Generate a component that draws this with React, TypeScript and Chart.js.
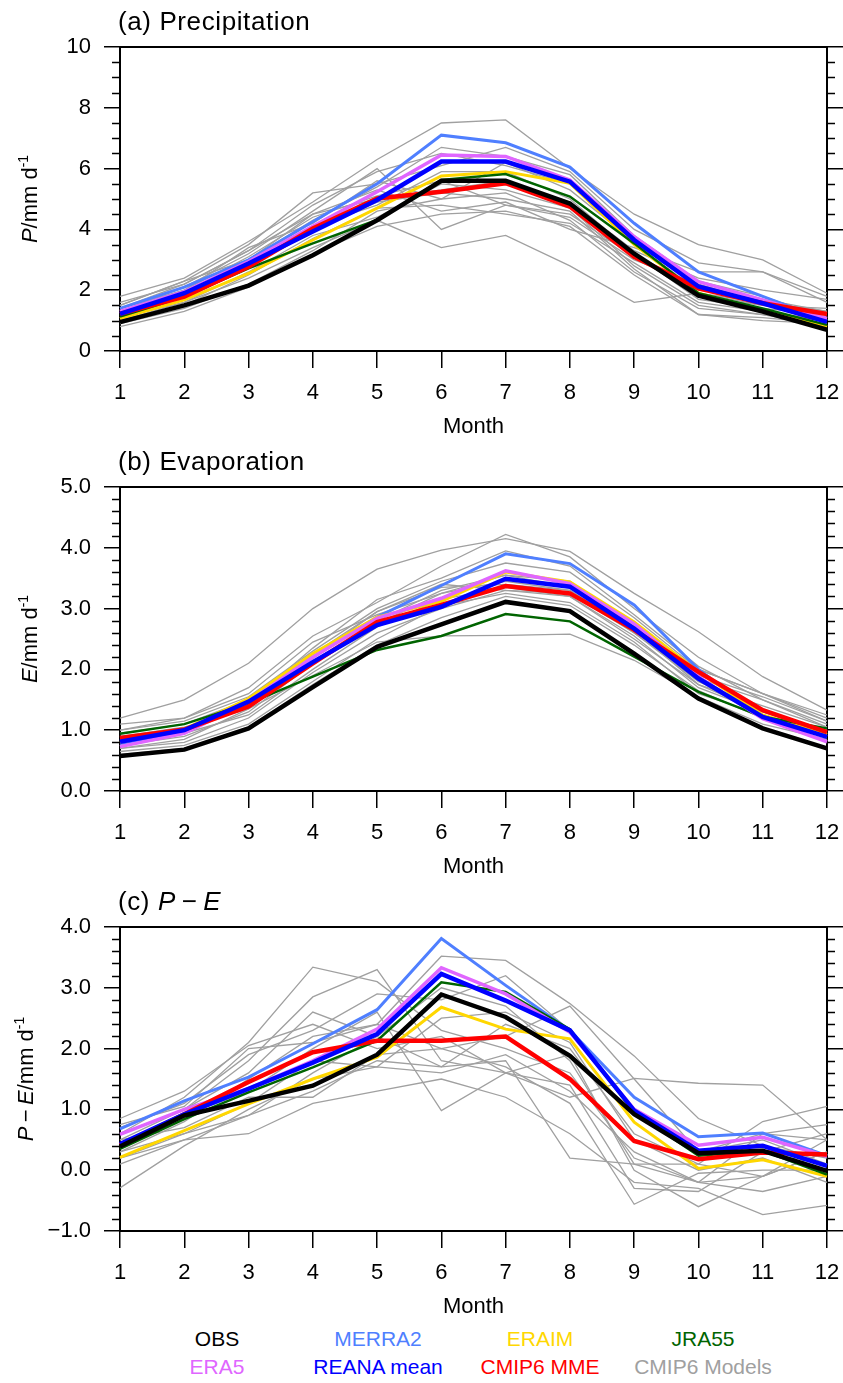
import React, { useEffect, useRef } from "react";
import { Chart, registerables } from "chart.js";

Chart.register(...registerables);

const FONT = "'Liberation Sans', Arial, Helvetica, sans-serif";

// ---------- categories ----------
const months = ["1", "2", "3", "4", "5", "6", "7", "8", "9", "10", "11", "12"];

// ---------- tick labels ----------
const precipTicks = ["0", "2", "4", "6", "8", "10"];
const evapTicks = ["0.0", "1.0", "2.0", "3.0", "4.0", "5.0"];
const pmeTicks = ["\u22121.0", "0.0", "1.0", "2.0", "3.0", "4.0"];

// ---------- series names / colours ----------
const seriesNames = ["OBS", "REANA mean", "CMIP6 MME", "ERA5", "JRA55", "ERAIM", "MERRA2"];
const seriesColors = ["#000000", "#0000ff", "#ff0000", "#e066ff", "#006400", "#ffd700", "#4f7fff"];
const seriesWidths = [4.5, 4.5, 4.5, 3.5, 2.5, 3, 3];
const modelColor = "#a0a0a0";

// ---------- (a) Precipitation ----------
const pOBS = [0.95, 1.5, 2.15, 3.15, 4.3, 5.6, 5.6, 4.85, 3.2, 1.82, 1.3, 0.7];
const pREANA = [1.22, 1.9, 2.88, 3.93, 4.97, 6.23, 6.23, 5.57, 3.65, 2.12, 1.57, 0.96];
const pMME = [1.22, 1.79, 2.77, 4.03, 5.02, 5.24, 5.52, 4.75, 3.1, 2.06, 1.57, 1.22];
const pERA5 = [1.3, 1.95, 2.94, 4.1, 5.24, 6.45, 6.4, 5.62, 3.76, 2.28, 1.68, 1.07];
const pJRA55 = [1.13, 1.79, 2.72, 3.54, 4.31, 5.63, 5.82, 5.08, 3.54, 1.9, 1.4, 0.86];
const pERAIM = [1.07, 1.68, 2.55, 3.65, 4.7, 5.76, 5.9, 5.52, 3.5, 1.9, 1.35, 0.8];
const pMERRA2 = [1.4, 2.1, 3.0, 4.25, 5.5, 7.1, 6.85, 6.05, 4.2, 2.6, 1.8, 1.0];
const pModels = [
  [1.8, 2.4, 3.6, 4.9, 6.3, 7.5, 7.6, 6.0, 4.5, 3.5, 3.0, 1.9],
  [1.5, 2.3, 3.5, 5.2, 5.5, 6.1, 6.7, 5.9, 4.0, 2.9, 2.6, 1.8],
  [1.3, 2.1, 3.2, 4.6, 6.0, 4.0, 4.8, 4.4, 3.0, 2.2, 1.6, 1.2],
  [1.0, 1.6, 2.4, 3.4, 4.3, 3.4, 3.8, 2.8, 1.6, 1.9, 1.6, 1.3],
  [1.2, 1.9, 3.0, 4.3, 5.4, 6.7, 6.4, 5.8, 3.8, 2.3, 1.8, 1.1],
  [1.4, 2.2, 3.3, 4.8, 5.9, 6.5, 6.1, 5.5, 3.5, 2.0, 1.7, 1.3],
  [1.1, 1.7, 2.8, 4.0, 4.9, 5.2, 5.0, 4.6, 2.7, 1.2, 1.1, 0.9],
  [0.9, 1.4, 2.2, 3.3, 4.6, 5.0, 5.2, 4.3, 2.6, 1.4, 1.2, 0.8],
  [1.3, 2.0, 3.1, 4.4, 5.1, 5.6, 4.8, 4.5, 3.1, 1.9, 1.5, 1.1],
  [1.0, 1.5, 2.5, 3.7, 4.7, 4.8, 4.5, 4.2, 2.9, 1.6, 1.3, 1.0],
  [1.6, 2.2, 3.3, 4.5, 5.0, 5.3, 5.6, 4.9, 3.3, 2.4, 2.0, 1.7],
  [1.2, 1.8, 2.9, 4.1, 4.8, 5.9, 5.9, 5.0, 3.2, 1.7, 1.4, 1.2],
  [0.8, 1.3, 2.1, 3.2, 4.1, 4.5, 4.6, 4.1, 2.5, 1.2, 1.0, 0.9],
  [1.4, 2.0, 3.4, 4.2, 5.6, 5.0, 6.2, 5.3, 3.6, 1.8, 1.5, 1.4],
  [1.1, 1.6, 2.6, 3.8, 4.4, 5.5, 5.3, 4.7, 2.8, 1.5, 1.2, 1.0],
  [1.5, 2.3, 3.0, 4.5, 5.3, 4.6, 4.9, 4.0, 3.4, 2.6, 2.6, 1.6],
];

// ---------- (b) Evaporation ----------
const eOBS = [0.575, 0.68, 1.03, 1.71, 2.37, 2.74, 3.11, 2.96, 2.26, 1.52, 1.03, 0.7];
const eREANA = [0.81, 1.0, 1.47, 2.12, 2.73, 3.03, 3.49, 3.36, 2.67, 1.85, 1.22, 0.89];
const eMME = [0.87, 1.01, 1.39, 2.1, 2.78, 3.06, 3.37, 3.25, 2.65, 1.96, 1.33, 0.97];
const eERA5 = [0.73, 0.95, 1.47, 2.2, 2.84, 3.17, 3.62, 3.41, 2.75, 1.88, 1.19, 0.81];
const eJRA55 = [0.94, 1.1, 1.44, 1.88, 2.32, 2.55, 2.91, 2.79, 2.21, 1.63, 1.22, 1.03];
const eERAIM = [0.8, 1.02, 1.52, 2.26, 2.86, 3.12, 3.6, 3.44, 2.78, 1.96, 1.25, 0.93];
const eMERRA2 = [0.78, 0.97, 1.5, 2.2, 2.86, 3.38, 3.9, 3.74, 3.06, 2.0, 1.22, 0.89];
const eModels = [
  [1.2, 1.5, 2.1, 3.0, 3.65, 3.96, 4.15, 3.94, 3.25, 2.62, 1.88, 1.33],
  [1.1, 1.2, 1.7, 2.55, 3.1, 3.7, 4.22, 3.85, 3.0, 2.2, 1.6, 1.15],
  [1.0, 1.15, 1.55, 2.3, 3.0, 3.45, 3.75, 3.6, 2.85, 2.0, 1.6, 1.2],
  [0.85, 1.0, 1.4, 2.1, 2.75, 3.25, 3.45, 3.3, 2.6, 1.85, 1.5, 1.05],
  [0.9, 1.05, 1.35, 1.9, 2.45, 2.55, 2.56, 2.58, 2.15, 1.55, 1.1, 0.85],
  [0.7, 0.8, 1.2, 1.95, 2.6, 3.0, 3.3, 3.2, 2.5, 1.75, 1.3, 1.0],
  [0.75, 0.9, 1.3, 2.1, 2.8, 3.3, 3.55, 3.45, 2.7, 1.9, 1.55, 1.15],
  [0.65, 0.75, 1.1, 1.8, 2.5, 3.05, 3.25, 3.1, 2.45, 1.6, 1.25, 0.95],
  [0.8, 0.95, 1.45, 2.35, 3.15, 3.5, 3.95, 3.7, 2.9, 2.05, 1.5, 1.1],
  [0.95, 1.1, 1.5, 2.2, 2.95, 3.4, 3.3, 3.25, 2.6, 1.8, 1.35, 0.95],
  [0.6, 0.7, 1.05, 1.75, 2.4, 2.85, 3.2, 3.05, 2.4, 1.65, 1.2, 0.9],
  [1.0, 1.2, 1.6, 2.45, 2.9, 3.25, 3.55, 3.35, 2.7, 2.0, 1.6, 1.25],
  [0.85, 0.95, 1.25, 2.0, 2.7, 3.15, 3.35, 3.2, 2.55, 1.7, 1.3, 0.95],
  [0.7, 0.85, 1.35, 2.25, 2.95, 3.35, 3.4, 3.3, 2.65, 1.75, 1.4, 1.05],
];

// ---------- (c) P - E ----------
const dOBS = [0.39, 0.9, 1.14, 1.39, 1.9, 2.89, 2.52, 1.88, 0.92, 0.28, 0.32, -0.01];
const dREANA = [0.43, 0.92, 1.34, 1.77, 2.24, 3.23, 2.79, 2.3, 0.98, 0.32, 0.4, 0.07];
const dMME = [0.41, 0.92, 1.45, 1.94, 2.13, 2.13, 2.2, 1.5, 0.48, 0.18, 0.29, 0.26];
const dERA5 = [0.59, 1.0, 1.34, 1.8, 2.32, 3.33, 2.9, 2.27, 1.0, 0.41, 0.54, 0.23];
const dJRA55 = [0.35, 0.84, 1.28, 1.69, 2.13, 3.09, 2.93, 2.32, 0.95, 0.24, 0.32, -0.07];
const dERAIM = [0.21, 0.65, 1.09, 1.5, 1.86, 2.68, 2.32, 2.16, 0.79, 0.03, 0.17, -0.1];
const dMERRA2 = [0.68, 1.14, 1.53, 2.08, 2.64, 3.81, 3.04, 2.3, 1.2, 0.55, 0.61, 0.24];
const dModels = [
  [0.6, 1.2, 2.1, 3.34, 3.1, 2.3, 2.0, 1.6, 0.2, -0.2, -0.1, 0.5],
  [0.5, 1.0, 1.8, 2.85, 3.3, 1.8, 1.6, 1.9, 0.0, -0.6, -0.1, 0.3],
  [0.3, 0.8, 1.5, 2.2, 2.4, 3.52, 3.45, 2.74, 1.88, 0.85, 0.4, 0.2],
  [-0.29, 0.4, 1.0, 1.5, 1.7, 1.6, 1.9, 1.3, 0.3, -0.2, -0.35, -0.1],
  [0.85, 1.3, 2.05, 2.4, 2.0, 2.2, 1.6, 1.2, 1.51, 1.43, 1.4, 0.5],
  [0.2, 0.5, 0.6, 1.1, 1.3, 1.5, 1.2, 0.6, -0.2, -0.3, -0.73, -0.58],
  [0.4, 0.9, 1.3, 2.0, 2.6, 0.98, 1.6, 1.4, -0.3, -0.35, 0.3, 0.6],
  [0.7, 1.1, 1.9, 2.3, 2.9, 2.8, 3.2, 2.3, 1.0, 0.3, 0.5, 0.1],
  [0.1, 0.5, 0.9, 1.6, 2.2, 1.7, 2.4, 2.0, 0.6, 0.1, 0.8, 1.05],
  [0.3, 0.6, 1.1, 1.8, 1.7, 2.5, 2.6, 2.1, 0.5, 0.0, 0.2, -0.2],
  [0.6, 1.0, 1.6, 2.6, 2.2, 3.0, 2.7, 1.8, 0.1, -0.2, 0.6, 0.75],
  [0.5, 0.7, 1.2, 1.2, 1.9, 2.0, 1.7, 1.1, -0.56, -0.05, 0.0, 0.0],
  [0.2, 0.6, 0.9, 1.3, 1.8, 1.7, 1.8, 0.2, 0.1, 0.1, -0.1, 0.3],
  [0.75, 1.05, 2.0, 2.1, 2.4, 2.0, 2.2, 2.7, 1.5, 0.3, 0.6, 0.5],
];

// ---------- legend ----------
const legendItems = [
  { name: "OBS", color: "#000000" },
  { name: "MERRA2", color: "#4f7fff" },
  { name: "ERAIM", color: "#ffd700" },
  { name: "JRA55", color: "#006400" },
  { name: "ERA5", color: "#e066ff" },
  { name: "REANA mean", color: "#0000ff" },
  { name: "CMIP6 MME", color: "#ff0000" },
  { name: "CMIP6 Models", color: "#a0a0a0" },
];

type Seg = { t: string; it?: boolean; sup?: boolean };

function drawSegs(
  ctx: CanvasRenderingContext2D,
  segs: Seg[],
  size: number,
  x: number,
  y: number,
  center: boolean,
  spacing: number
) {
  const fontFor = (s: Seg) =>
    `${s.it ? "italic " : ""}${s.sup ? Math.round(size * 0.62) : size}px ${FONT}`;
  (ctx as any).letterSpacing = spacing + "px";
  let total = 0;
  const widths = segs.map((s) => {
    ctx.font = fontFor(s);
    const w = ctx.measureText(s.t).width;
    total += w;
    return w;
  });
  let cx = center ? x - total / 2 : x;
  ctx.textBaseline = "alphabetic";
  ctx.textAlign = "left";
  segs.forEach((s, i) => {
    ctx.font = fontFor(s);
    ctx.fillText(s.t, cx, s.sup ? y - size * 0.42 : y);
    cx += widths[i];
  });
  (ctx as any).letterSpacing = "0px";
}

const decoPlugin = {
  id: "deco",
  afterDraw(chart: any) {
    const o = chart.options.plugins.deco;
    const { ctx, chartArea } = chart;
    const { left, right, top, bottom } = chartArea;
    const ys = chart.scales.y;
    ctx.save();
    ctx.strokeStyle = "#000";
    ctx.lineWidth = 2;
    ctx.beginPath();
    ctx.moveTo(left - 1, top);
    ctx.lineTo(right + 1, top);
    ctx.stroke();
    // minor ticks
    ctx.lineWidth = 1.5;
    const n = Math.round((o.max - o.min) / o.minor);
    const ratio = Math.round(o.major / o.minor);
    for (let i = 0; i <= n; i++) {
      if (i % ratio === 0) continue;
      const py = Math.round(ys.getPixelForValue(o.min + i * o.minor)) + 0.5;
      ctx.beginPath();
      ctx.moveTo(left - 8, py);
      ctx.lineTo(left, py);
      ctx.moveTo(right, py);
      ctx.lineTo(right + 8, py);
      ctx.stroke();
    }
    ctx.fillStyle = "#000";
    // panel title
    drawSegs(ctx, o.title, 26, left - 2, top - 17, false, 0.6);
    // y-axis title (rotated)
    ctx.save();
    ctx.translate(o.yTitleX, (top + bottom) / 2);
    ctx.rotate(-Math.PI / 2);
    drawSegs(ctx, o.yTitle, 22, 0, 8, true, 0);
    ctx.restore();
    ctx.restore();
  },
};

type PanelSpec = {
  obs: number[]; reana: number[]; mme: number[]; era5: number[]; jra55: number[]; eraim: number[]; merra2: number[];
  models: number[][];
  min: number; max: number; major: number; minor: number;
  ticks: string[];
  title: Seg[]; yTitle: Seg[]; yTitleX: number;
};

const panels: PanelSpec[] = [
  {
    obs: pOBS, reana: pREANA, mme: pMME, era5: pERA5, jra55: pJRA55, eraim: pERAIM, merra2: pMERRA2,
    models: pModels, min: 0, max: 10, major: 2, minor: 0.5, ticks: precipTicks,
    title: [{ t: "(a) Precipitation" }],
    yTitle: [{ t: "P", it: true }, { t: "/mm d" }, { t: "-1", sup: true }],
    yTitleX: 29,
  },
  {
    obs: eOBS, reana: eREANA, mme: eMME, era5: eERA5, jra55: eJRA55, eraim: eERAIM, merra2: eMERRA2,
    models: eModels, min: 0, max: 5, major: 1, minor: 0.2, ticks: evapTicks,
    title: [{ t: "(b) Evaporation" }],
    yTitle: [{ t: "E", it: true }, { t: "/mm d" }, { t: "-1", sup: true }],
    yTitleX: 29,
  },
  {
    obs: dOBS, reana: dREANA, mme: dMME, era5: dERA5, jra55: dJRA55, eraim: dERAIM, merra2: dMERRA2,
    models: dModels, min: -1, max: 4, major: 1, minor: 0.2, ticks: pmeTicks,
    title: [{ t: "(c) " }, { t: "P", it: true }, { t: "\u2009\u2212\u2009" }, { t: "E", it: true }],
    yTitle: [{ t: "P", it: true }, { t: "\u2009\u2212\u2009" }, { t: "E", it: true }, { t: "/mm d" }, { t: "-1", sup: true }],
    yTitleX: 25,
  },
];

const CANVAS_W = 843;
const CANVAS_H = 440;

function buildChart(canvas: HTMLCanvasElement, p: PanelSpec) {
  const main = [p.obs, p.reana, p.mme, p.era5, p.jra55, p.eraim, p.merra2];
  const datasets: any[] = main.map((d, i) => ({
    label: seriesNames[i],
    data: d,
    borderColor: seriesColors[i],
    borderWidth: seriesWidths[i],
    pointRadius: 0,
    fill: false,
    tension: 0,
  }));
  p.models.forEach((d, i) => {
    datasets.push({
      label: "CMIP6 Models " + (i + 1),
      data: d,
      borderColor: modelColor,
      borderWidth: 1.3,
      pointRadius: 0,
      fill: false,
      tension: 0,
    });
  });
  const tickFont = { family: FONT, size: 22 };
  return new Chart(canvas, {
    type: "line",
    data: { labels: months, datasets },
    plugins: [decoPlugin as any],
    options: {
      animation: false,
      responsive: false,
      maintainAspectRatio: false,
      layout: { padding: { left: 0, right: 0, top: 47, bottom: 0 } },
      plugins: {
        legend: { display: false },
        tooltip: { enabled: false },
        deco: { min: p.min, max: p.max, major: p.major, minor: p.minor, title: p.title, yTitle: p.yTitle, yTitleX: p.yTitleX },
      } as any,
      scales: {
        x: {
          type: "category",
          position: "bottom",
          offset: false,
          grid: { drawOnChartArea: false, drawTicks: true, tickLength: 17, color: "#000", lineWidth: 1.5 },
          border: { display: true, color: "#000", width: 2 },
          ticks: { color: "#000", font: tickFont, padding: 12, maxRotation: 0, autoSkip: false },
          title: { display: true, text: "Month", color: "#000", font: { family: FONT, size: 22 }, padding: { top: 0, bottom: 0 } },
          afterFit: (s: any) => {
            s.height = 89;
            s.paddingLeft = 0;
            s.paddingRight = 0;
          },
        },
        y: {
          type: "linear",
          position: "left",
          min: p.min,
          max: p.max,
          grid: { drawOnChartArea: false, drawTicks: true, tickLength: 16, color: "#000", lineWidth: 1.5 },
          border: { display: true, color: "#000", width: 2 },
          ticks: {
            stepSize: p.major,
            color: "#000",
            font: tickFont,
            padding: 13,
            callback: (v: any) => p.ticks[Math.round((Number(v) - p.min) / p.major)] ?? "",
          },
          afterFit: (s: any) => {
            s.width = 120;
            s.paddingTop = 0;
            s.paddingBottom = 0;
          },
        },
        yR: {
          type: "linear",
          position: "right",
          min: p.min,
          max: p.max,
          grid: { drawOnChartArea: false, drawTicks: true, tickLength: 16, color: "#000", lineWidth: 1.5 },
          border: { display: true, color: "#000", width: 2 },
          ticks: { stepSize: p.major, display: false },
          afterFit: (s: any) => {
            s.width = 16;
            s.paddingTop = 0;
            s.paddingBottom = 0;
          },
        },
      } as any,
    },
  });
}

export default function App() {
  const r0 = useRef<HTMLCanvasElement>(null);
  const r1 = useRef<HTMLCanvasElement>(null);
  const r2 = useRef<HTMLCanvasElement>(null);

  useEffect(() => {
    const refs = [r0, r1, r2];
    const charts = refs.map((r, i) => buildChart(r.current as HTMLCanvasElement, panels[i]));
    return () => charts.forEach((c) => c.destroy());
  }, []);

  const canvasStyle = (top: number): React.CSSProperties => ({
    position: "absolute",
    left: 0,
    top,
    width: CANVAS_W,
    height: CANVAS_H,
  });

  const legendX = [217, 378, 540, 703];
  const legendY = [1339, 1367];

  return (
    <div style={{ position: "absolute", left: 0, top: 0, width: 843, height: 1383, background: "#fff", fontFamily: FONT }}>
      <canvas ref={r0} width={CANVAS_W} height={CANVAS_H} style={canvasStyle(0)} />
      <canvas ref={r1} width={CANVAS_W} height={CANVAS_H} style={canvasStyle(440)} />
      <canvas ref={r2} width={CANVAS_W} height={CANVAS_H} style={canvasStyle(880)} />
      {legendItems.map((it, i) => (
        <div
          key={it.name}
          style={{
            position: "absolute",
            left: legendX[i % 4],
            top: legendY[Math.floor(i / 4)],
            transform: "translate(-50%, -50%)",
            color: it.color,
            fontSize: 21,
            whiteSpace: "nowrap",
            lineHeight: "24px",
          }}
        >
          {it.name}
        </div>
      ))}
    </div>
  );
}
